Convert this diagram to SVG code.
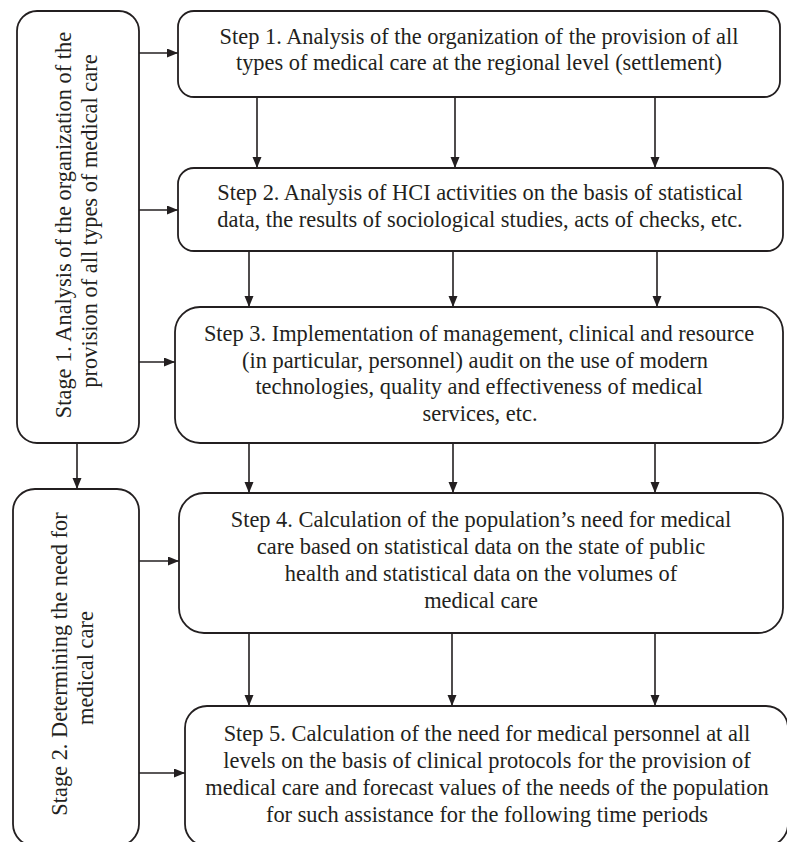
<svg xmlns="http://www.w3.org/2000/svg" width="787" height="842" viewBox="0 0 787 842">
<style>
.box{fill:#ffffff;stroke:#231f20;stroke-width:1.8}
.t{font-family:"Liberation Serif","Times New Roman",serif;font-size:22.4px;fill:#231f20;text-anchor:middle}
.c{stroke:#231f20;stroke-width:1.6;fill:none;marker-end:url(#ah)}
</style>
<defs>
<marker id="ah" markerUnits="userSpaceOnUse" markerWidth="12" markerHeight="10" refX="11" refY="4.5" orient="auto">
<path d="M0,0 L11,4.5 L0,9 z" fill="#231f20"/>
</marker>
</defs>
<rect width="787" height="842" fill="#ffffff"/>
<g id="connectors">
<line class="c" x1="139" y1="53" x2="178" y2="53"/>
<line class="c" x1="139" y1="210" x2="178" y2="210"/>
<line class="c" x1="139" y1="362" x2="175" y2="362"/>
<line class="c" x1="77" y1="443" x2="77" y2="489"/>
<line class="c" x1="139" y1="561" x2="179" y2="561"/>
<line class="c" x1="139" y1="773" x2="185" y2="773"/>
<line class="c" x1="257" y1="97" x2="257" y2="168"/>
<line class="c" x1="455" y1="97" x2="455" y2="168"/>
<line class="c" x1="655" y1="97" x2="655" y2="168"/>
<line class="c" x1="249" y1="251" x2="249" y2="307"/>
<line class="c" x1="453" y1="251" x2="453" y2="307"/>
<line class="c" x1="657" y1="251" x2="657" y2="307"/>
<line class="c" x1="249" y1="443" x2="249" y2="493"/>
<line class="c" x1="453" y1="443" x2="453" y2="493"/>
<line class="c" x1="655" y1="443" x2="655" y2="493"/>
<line class="c" x1="249" y1="633" x2="249" y2="706"/>
<line class="c" x1="452" y1="633" x2="452" y2="706"/>
<line class="c" x1="655" y1="633" x2="655" y2="706"/>
</g>
<g id="stage1">
<rect class="box" x="17" y="11" width="122" height="432" rx="20"/>
<text class="t" transform="translate(71,225) rotate(-90)">Stage 1. Analysis of the organization of the</text>
<text class="t" transform="translate(97,221) rotate(-90)">provision of all types of medical care</text>
</g>
<g id="stage2">
<rect class="box" x="13" y="489" width="126" height="357" rx="22"/>
<text class="t" transform="translate(67,664) rotate(-90)">Stage 2. Determining the need for</text>
<text class="t" transform="translate(93,668) rotate(-90)">medical care</text>
</g>
<g id="step1">
<rect class="box" x="178" y="11" width="602" height="86" rx="16"/>
<text class="t" x="479" y="44">Step 1. Analysis of the organization of the provision of all</text>
<text class="t" x="479" y="70">types of medical care at the regional level (settlement)</text>
</g>
<g id="step2">
<rect class="box" x="178" y="168" width="605" height="83" rx="16"/>
<text class="t" x="480" y="200">Step 2. Analysis of HCI activities on the basis of statistical</text>
<text class="t" x="480" y="227">data, the results of sociological studies, acts of checks, etc.</text>
</g>
<g id="step3">
<rect class="box" x="175" y="307" width="608" height="136" rx="25"/>
<text class="t" x="479" y="341">Step 3. Implementation of management, clinical and resource</text>
<text class="t" x="475" y="368">(in particular, personnel) audit on the use of modern</text>
<text class="t" x="479" y="394">technologies, quality and effectiveness of medical</text>
<text class="t" x="480" y="421">services, etc.</text>
</g>
<g id="step4">
<rect class="box" x="179" y="493" width="604" height="140" rx="25"/>
<text class="t" x="481" y="527">Step 4. Calculation of the population’s need for medical</text>
<text class="t" x="481" y="554">care based on statistical data on the state of public</text>
<text class="t" x="481" y="581">health and statistical data on the volumes of</text>
<text class="t" x="481" y="608">medical care</text>
</g>
<g id="step5">
<rect class="box" x="185" y="706" width="603" height="140" rx="22"/>
<text class="t" x="487" y="741">Step 5. Calculation of the need for medical personnel at all</text>
<text class="t" x="487" y="768">levels on the basis of clinical protocols for the provision of</text>
<text class="t" x="487" y="795">medical care and forecast values of the needs of the population</text>
<text class="t" x="487" y="822">for such assistance for the following time periods</text>
</g>
</svg>
